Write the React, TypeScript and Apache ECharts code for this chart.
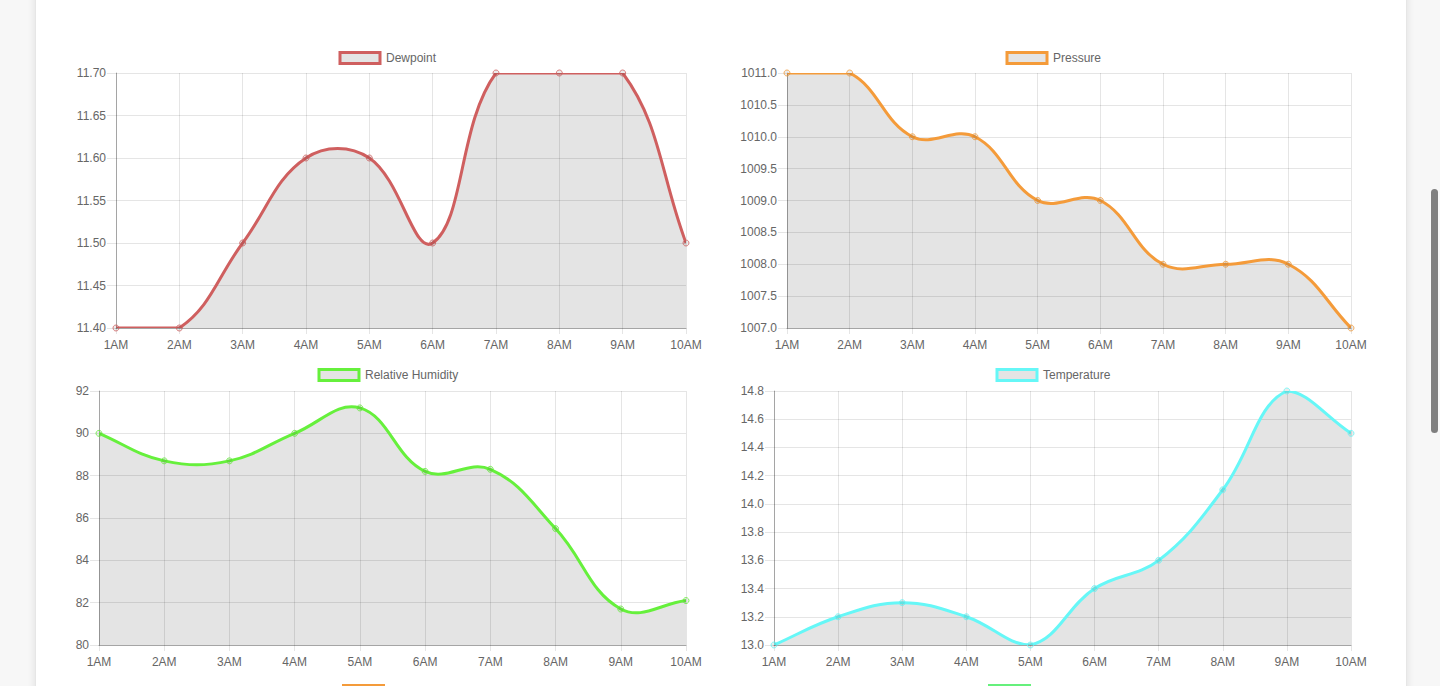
import React, { useEffect, useRef } from "react";
import * as echarts from "echarts";

const hours = ["1AM", "2AM", "3AM", "4AM", "5AM", "6AM", "7AM", "8AM", "9AM", "10AM"];
const dewpoint = [11.4, 11.4, 11.5, 11.6, 11.6, 11.5, 11.7, 11.7, 11.7, 11.5];
const pressure = [1011, 1011, 1010, 1010, 1009, 1009, 1008, 1008, 1008, 1007];
const humidity = [90, 88.7, 88.7, 90, 91.2, 88.2, 88.3, 85.5, 81.7, 82.1];
const temperature = [13.0, 13.2, 13.3, 13.2, 13.0, 13.4, 13.6, 14.1, 14.8, 14.5];

const seriesNames = ["Dewpoint", "Pressure", "Relative Humidity", "Temperature"];
const seriesColors = ["#cf5f5f", "#f49b3a", "#66f03c", "#66f7f7"];
const seriesData = [dewpoint, pressure, humidity, temperature];
const yMins = [11.4, 1007, 80, 13.0];
const yMaxs = [11.7, 1011, 92, 14.8];
const yIntervals = [0.05, 0.5, 2, 0.2];
const yDecimals = [2, 1, 0, 1];

const FONT = "'Liberation Sans', Arial, Helvetica, sans-serif";
const TENSION = 0.4;

function buildSplinePath(pts: number[][], area: { x: number; y: number; width: number; height: number }) {
  const left = area.x, right = area.x + area.width, top = area.y, bottom = area.y + area.height;
  const clampX = (v: number) => Math.min(Math.max(v, left), right);
  const clampY = (v: number) => Math.min(Math.max(v, top), bottom);
  const cps = pts.map((cur, i) => {
    const prev = pts[i - 1] || cur;
    const next = pts[i + 1] || cur;
    const d01 = Math.hypot(cur[0] - prev[0], cur[1] - prev[1]);
    const d12 = Math.hypot(next[0] - cur[0], next[1] - cur[1]);
    let s01 = d01 / (d01 + d12);
    let s12 = d12 / (d01 + d12);
    if (!isFinite(s01)) s01 = 0;
    if (!isFinite(s12)) s12 = 0;
    const fa = TENSION * s01;
    const fb = TENSION * s12;
    return {
      prev: [clampX(cur[0] - fa * (next[0] - prev[0])), clampY(cur[1] - fa * (next[1] - prev[1]))],
      next: [clampX(cur[0] + fb * (next[0] - prev[0])), clampY(cur[1] + fb * (next[1] - prev[1]))],
    };
  });
  let d = `M${pts[0][0]},${pts[0][1]}`;
  for (let i = 1; i < pts.length; i++) {
    const a = cps[i - 1].next;
    const b = cps[i].prev;
    d += ` C${a[0]},${a[1]} ${b[0]},${b[1]} ${pts[i][0]},${pts[i][1]}`;
  }
  return d;
}

export default function App() {
  const ref = useRef<HTMLDivElement>(null);

  useEffect(() => {
    if (!ref.current) return;
    const chart = echarts.init(ref.current, null, { renderer: "svg" });

    const grids = [
      { left: 116, top: 73, width: 570, height: 255 },
      { left: 787, top: 73, width: 564, height: 255 },
      { left: 99, top: 391, width: 587, height: 254 },
      { left: 774, top: 391, width: 577, height: 254 },
    ];
    const legendPos = [
      { left: 338.5, top: 51 },
      { left: 1005.5, top: 51 },
      { left: 317.5, top: 368 },
      { left: 995.5, top: 368 },
    ];

    const gridColor = "rgba(0,0,0,0.1)";
    const axisColor = "rgba(0,0,0,0.28)";

    const curveSeries = seriesNames.map((name, i) => ({
      type: "custom",
      name,
      xAxisIndex: i,
      yAxisIndex: i,
      coordinateSystem: "cartesian2d",
      clip: true,
      silent: true,
      data: seriesData[i].map((v, k) => [k, v]),
      encode: { x: 0, y: 1 },
      renderItem: (params: any, api: any) => {
        if (params.dataIndex !== 0) return null;
        const vals = seriesData[i];
        const pts = vals.map((v, k) => api.coord([k, v]));
        const cs = params.coordSys;
        const area = { x: cs.x, y: cs.y, width: cs.width, height: cs.height };
        const line = buildSplinePath(pts, area);
        const bottom = area.y + area.height;
        const fillPath =
          line + ` L${pts[pts.length - 1][0]},${bottom} L${pts[0][0]},${bottom} Z`;
        return {
          type: "group",
          children: [
            {
              type: "path",
              shape: { pathData: fillPath },
              style: { fill: "rgba(0,0,0,0.105)", stroke: "none" },
            },
            {
              type: "path",
              shape: { pathData: line },
              style: { fill: "none", stroke: seriesColors[i], lineWidth: 3, lineJoin: "round" },
            },
          ],
        };
      },
    }));

    const pointSeries = seriesNames.map((name, i) => ({
      type: "scatter",
      name,
      xAxisIndex: i,
      yAxisIndex: i,
      data: seriesData[i],
      symbol: "circle",
      symbolSize: 6,
      silent: true,
      itemStyle: {
        color: "rgba(0,0,0,0.1)",
        borderColor: seriesColors[i],
        borderWidth: 1,
      },
      emphasis: { disabled: true },
    }));

    const option: any = {
      animation: false,
      textStyle: { fontFamily: FONT },
      grid: grids.map((g) => ({ ...g, containLabel: false })),
      legend: seriesNames.map((name, i) => ({
        data: [name],
        left: legendPos[i].left,
        top: legendPos[i].top,
        itemWidth: 40,
        itemHeight: 11,
        itemGap: 10,
        icon: "rect",
        selectedMode: false,
        padding: 0,
        itemStyle: {
          color: "#e4e4e4",
          borderColor: seriesColors[i],
          borderWidth: 3,
        },
        textStyle: { color: "#666", fontSize: 12, fontFamily: FONT, padding: [0, 0, 0, 1] },
      })),
      xAxis: seriesNames.map((_, i) => ({
        type: "category",
        gridIndex: i,
        data: hours,
        boundaryGap: false,
        axisLine: { show: true, lineStyle: { color: axisColor, width: 1 } },
        axisTick: { show: true, length: 6, lineStyle: { color: gridColor } },
        axisLabel: { color: "#666", fontSize: 12, fontFamily: FONT, margin: 11 },
        splitLine: { show: true, lineStyle: { color: gridColor, width: 1 } },
      })),
      yAxis: seriesNames.map((_, i) => ({
        type: "value",
        gridIndex: i,
        min: yMins[i],
        max: yMaxs[i],
        interval: yIntervals[i],
        axisLine: { show: true, lineStyle: { color: axisColor, width: 1 } },
        axisTick: { show: true, length: 9, lineStyle: { color: gridColor } },
        axisLabel: {
          color: "#666",
          fontSize: 12,
          fontFamily: FONT,
          margin: 10,
          formatter: (v: number) => v.toFixed(yDecimals[i]),
        },
        splitLine: { show: true, lineStyle: { color: gridColor, width: 1 } },
      })),
      series: [...curveSeries, ...pointSeries],
      graphic: [
        {
          type: "rect",
          shape: { x: 343.5, y: 685.5, width: 40, height: 11 },
          style: { fill: "#e4e4e4", stroke: "#f49b3a", lineWidth: 3 },
        },
        {
          type: "rect",
          shape: { x: 989.5, y: 685.5, width: 40, height: 11 },
          style: { fill: "#e4e4e4", stroke: "#66f07c", lineWidth: 3 },
        },
      ],
    };

    chart.setOption(option);
    return () => chart.dispose();
  }, []);

  return (
    <div
      style={{
        position: "fixed",
        left: 0,
        top: 0,
        width: 1440,
        height: 686,
        background: "#f7f7f7",
        overflow: "hidden",
      }}
    >
      <div
        style={{
          position: "absolute",
          left: 35,
          top: -20,
          width: 1370,
          height: 760,
          background: "#fff",
          boxShadow: "0 0 8px rgba(0,0,0,0.10)",
          borderLeft: "1px solid #e6e6e6",
          borderRight: "1px solid #e6e6e6",
        }}
      />
      <div
        style={{
          position: "absolute",
          left: 1431,
          top: 189,
          width: 7,
          height: 244,
          borderRadius: 4,
          background: "#7f7f7f",
        }}
      />
      <div ref={ref} style={{ position: "absolute", left: 0, top: 0, width: 1440, height: 686 }} />
    </div>
  );
}
